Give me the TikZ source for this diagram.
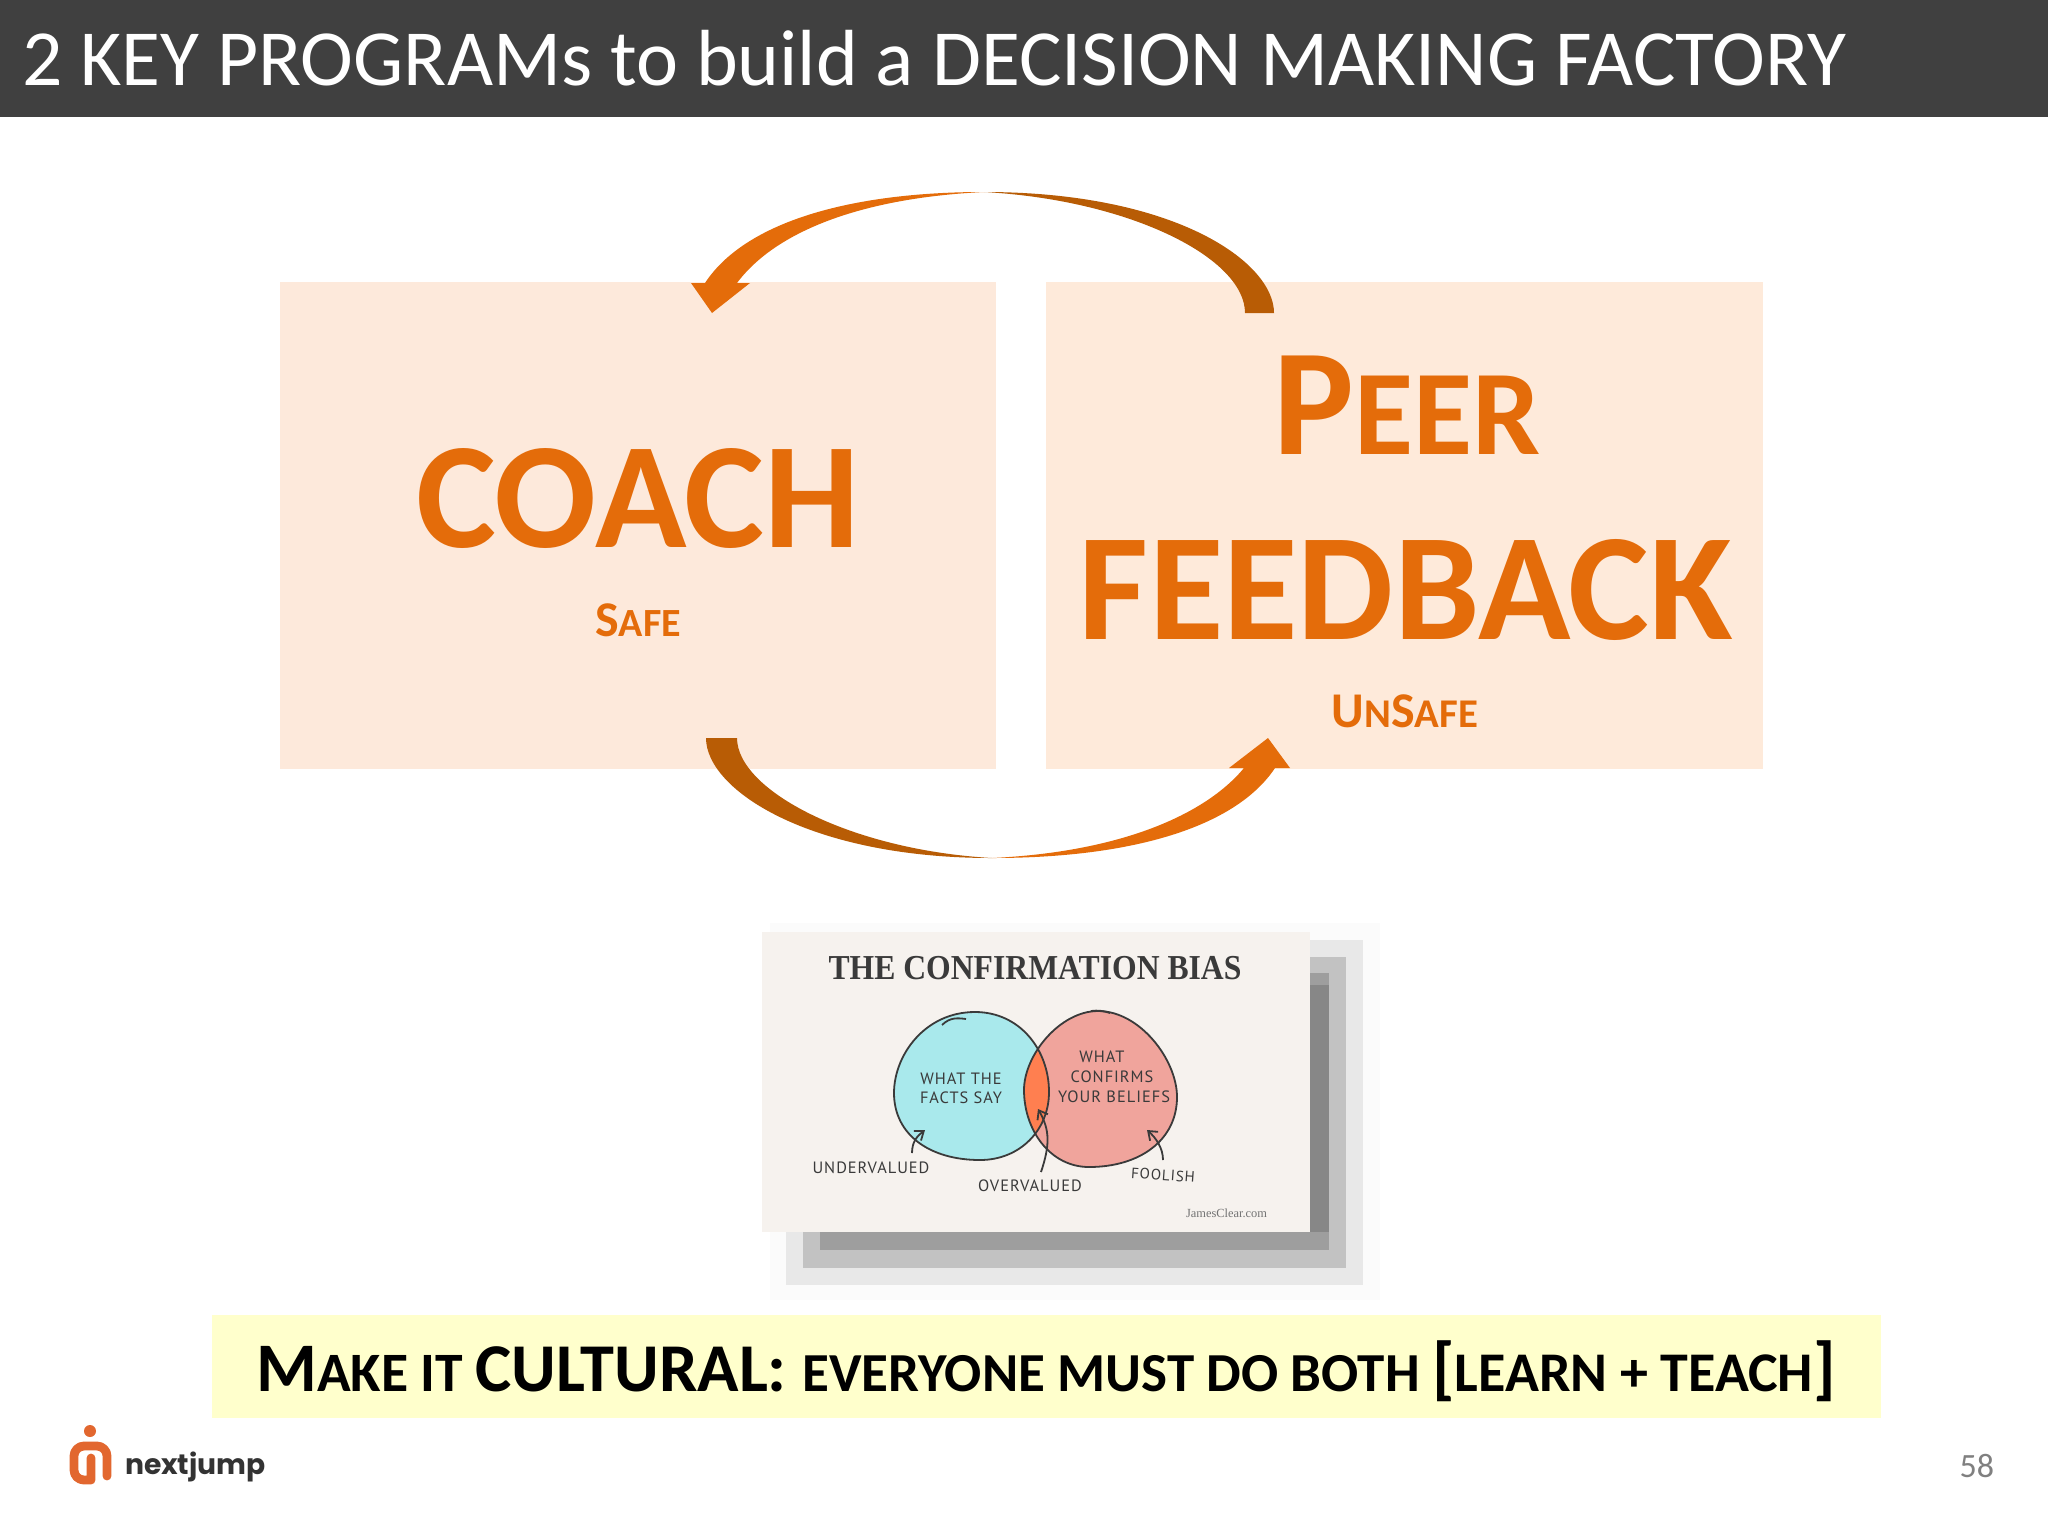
\documentclass[tikz,border=0pt]{standalone}
\usepackage{fontspec}
\usepackage{graphicx}
\setmainfont{Carlito}
\newfontfamily\calibri{Carlito}
\newfontfamily\serifx{Liberation Serif}
\newfontfamily\handx[LetterSpace=6]{PT Sans}
\newfontfamily\logox{Poppins}
\newcommand{\fs}[1]{\fontsize{#1}{#1}\selectfont}
\definecolor{hdr}{HTML}{404040}
\definecolor{org}{HTML}{E46C0A}
\definecolor{drk}{HTML}{B85C05}
\definecolor{boxa}{HTML}{FDE9DB}
\definecolor{boxb}{HTML}{FEEADA}
\definecolor{ban}{HTML}{FFFFCC}
\definecolor{photo}{HTML}{F6F2EE}
\definecolor{ink}{HTML}{3A3A3A}
\definecolor{blobblue}{HTML}{A9E9EC}
\definecolor{blobred}{HTML}{F0A49C}
\definecolor{blobmix}{HTML}{FF7F50}
\definecolor{logoc}{HTML}{E2672F}
\usetikzlibrary{arrows.meta}
\tikzset{
  txt/.style={inner sep=0pt,outer sep=0pt,anchor=base},
  big/.style={txt,text=org,font=\calibri\bfseries},
  hand/.style={txt,anchor=center,text=ink,font=\handx\fs{8.2}},
  inkline/.style={draw=ink,line width=0.9pt},
  tinyarrow/.style={inkline,-{Straight Barb[length=4pt,width=6pt]}}
}
\begin{document}
\begin{tikzpicture}[x=0.5pt,y=-0.5pt]
\useasboundingbox (0,0) rectangle (2048,1536);
\fill[white] (0,0) rectangle (2048,1536);
% header
\fill[hdr] (0,0) rectangle (2048,117);
\node[txt,anchor=base west,text=white,font=\calibri\fs{39.8}] (title) at (22,86) {2 KEY PROGRAMs to build a DECISION MAKING FACTORY};
% boxes
\fill[boxa] (280,282) rectangle (996,769);
\fill[boxb] (1046,282) rectangle (1763,769);
% top arrow
\fill[drk] (1274,313) .. controls (1274,262) and (1175,192) .. (984,192)
  .. controls (1130,200) and (1245,258) .. (1245,313) -- cycle;
\fill[org] (984,192) .. controls (850,192) and (745,222) .. (705,283)
  -- (691,283) -- (712,313) -- (750,283) -- (737,283)
  .. controls (775,232) and (860,198) .. (984,192) -- cycle;
% bottom arrow
\fill[drk] (706,738) .. controls (706,790) and (810,858) .. (992,858)
  .. controls (850,850) and (737,790) .. (737,738) -- cycle;
\fill[org] (992,858) .. controls (1130,858) and (1235,828) .. (1275,768)
  -- (1290,768) -- (1268,738) -- (1229,768) -- (1244,768)
  .. controls (1205,815) and (1120,852) .. (992,858) -- cycle;
% box labels
\node[big,font=\calibri\bfseries\fs{75.5}] (coach) at (638,547) {COACH};
\node[big] (safe) at (638,636) {\fs{25}S\fs{20}AFE};
\node[big] (peer) at (1407,454) {\fs{76}P\fs{60.5}EER};
\node[big,font=\calibri\bfseries\fs{76.3}] (feedback) at (1406,639) {FEEDBACK};
\node[big] (unsafe) at (1405,727) {\fs{25}U\fs{20.4}N\fs{25}S\fs{20.4}AFE};
% picture shadow
\fill[black!1.5] (770,923) rectangle (1380,1300);
\fill[black!9] (786,940) rectangle (1363,1285);
\fill[black!24] (803,957) rectangle (1346,1268);
\fill[black!38] (820,973) rectangle (1329,1250);
\fill[black!47] (1300,985) rectangle (1329,1232);
% picture
\fill[photo] (762,932) rectangle (1310,1232);
\node[txt,anchor=center,text=ink,font=\serifx\bfseries\fs{17.5}] (cbtitle) at (1035,968) {\scalebox{.905}[1]{THE CONFIRMATION BIAS}};
\def\blobA{(975,1012) .. controls (1020,1012) and (1049,1050) .. (1049,1092) .. controls (1049,1130) and (1020,1160) .. (980,1160) .. controls (930,1160) and (894,1135) .. (894,1093) .. controls (894,1055) and (925,1012) .. (975,1012) -- cycle}
\def\blobB{(1098,1011) .. controls (1140,1011) and (1177,1060) .. (1177,1097) .. controls (1177,1140) and (1140,1167) .. (1089,1167) .. controls (1050,1167) and (1024,1130) .. (1024,1090) .. controls (1024,1055) and (1060,1011) .. (1098,1011) -- cycle}
\fill[blobblue] \blobA;
\fill[blobred] \blobB;
\begin{scope}
\clip \blobA;
\fill[blobmix] \blobB;
\end{scope}
\draw[inkline] \blobA;
\draw[inkline] \blobB;
\draw[inkline] (942,1025) .. controls (950,1017) and (958,1018) .. (966,1019);
\draw[inkline] (1091,1011) .. controls (1098,1010) and (1104,1011) .. (1110,1013);
\node[hand] (h1) at (961,1079) {WHAT THE};
\node[hand] (h2) at (961,1098) {FACTS SAY};
\node[hand] (h3) at (1102,1057) {WHAT};
\node[hand] (h4) at (1112,1077) {CONFIRMS};
\node[hand] (h5) at (1114,1097) {YOUR BELIEFS};
\node[hand] (under) at (871,1168) {UNDERVALUED};
\node[hand] (over) at (1030,1186) {OVERVALUED};
\node[hand,font=\handx\fs{7.5},rotate=-4] (fool) at (1163,1175) {FOOLISH};
\coordinate (ua) at (912,1153);
\coordinate (ub) at (925,1130);
\coordinate (oa) at (1041,1172);
\coordinate (ob) at (1038,1109);
\coordinate (fa) at (1163,1160);
\coordinate (fb) at (1147,1130);
\draw[tinyarrow] (ua) .. controls (912,1142) and (917,1136) .. (ub);
\draw[tinyarrow] (oa) .. controls (1050,1145) and (1050,1130) .. (ob);
\draw[tinyarrow] (fa) .. controls (1163,1148) and (1156,1138) .. (fb);
\node[txt,anchor=base east,text=black!55,font=\serifx\fs{6.2}] (jc) at (1267,1217) {JamesClear.com};
% banner
\fill[ban] (212,1315) rectangle (1881,1418);
\node[txt,text=black,font=\calibri\bfseries] (banner) at (1046,1391) {\fs{34.8}M\fs{27.8}AKE IT \fs{34.2}CULTURAL: \fs{27.5}EVERYONE MUST DO BOTH \fs{34.8}[\fs{28}LEARN + TEACH\fs{34.8}]};
% logo
\fill[logoc] (90,1431) circle (6);
\draw[logoc,line width=4.4pt,line cap=round,line join=round]
  (107,1476) -- (107,1456) arc[start angle=0,end angle=-90,radius=10] -- (84,1446)
  arc[start angle=-90,end angle=-180,radius=10] -- (74,1470)
  arc[start angle=180,end angle=90,radius=10] -- (91,1480) -- (91,1458);
\node[txt,anchor=base west,text=black!80,font=\logox\bfseries\fs{14.1}] (logo) at (125,1474) {nextjump};
% page number
\node[txt,anchor=base east,text=black!50,font=\calibri\fs{17}] (pg) at (1994,1477) {58};
\end{tikzpicture}
\end{document}
